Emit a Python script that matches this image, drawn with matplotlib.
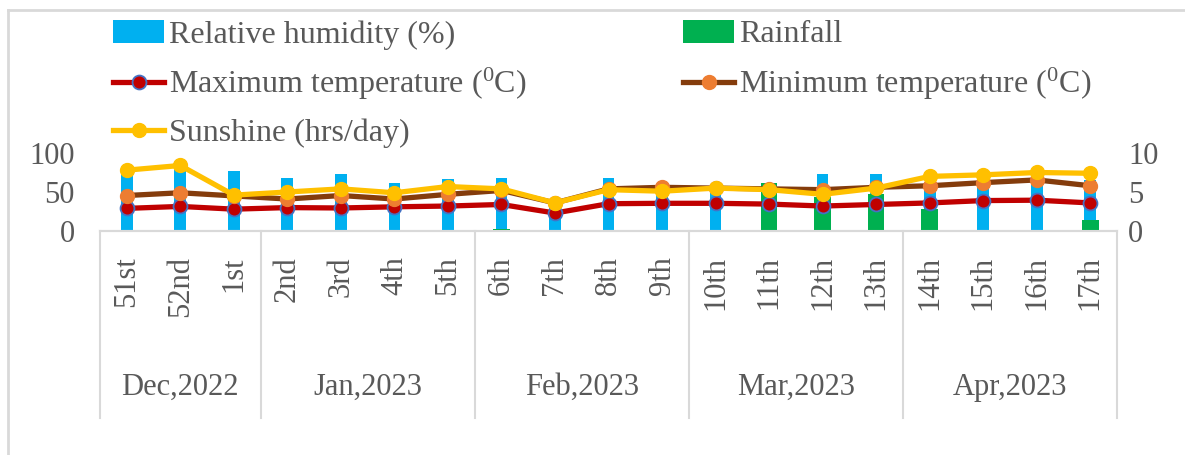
import matplotlib
matplotlib.use("Agg")
import matplotlib.pyplot as plt
from matplotlib.lines import Line2D
import matplotlib.transforms as mtransforms

plt.rcParams["font.family"] = ["Liberation Serif", "DejaVu Serif"]
plt.rcParams["mathtext.fontset"] = "custom"
plt.rcParams["mathtext.rm"] = "Liberation Serif"

# data
weeks = ["51st", "52nd", "1st", "2nd", "3rd", "4th", "5th", "6th", "7th", "8th",
         "9th", "10th", "11th", "12th", "13th", "14th", "15th", "16th", "17th"]
months = ["Dec,2022", "Jan,2023", "Feb,2023", "Mar,2023", "Apr,2023"]
month_sizes = [3, 4, 4, 4, 4]

humidity = [80, 88, 77, 68, 73, 62, 67, 68, 35, 68, 55, 55, 55, 73, 73, 60, 68, 72, 65]
rainfall = [0, 0, 0, 0, 0, 0, 0, 3, 0, 0, 0, 0, 61, 43, 47, 28, 0, 0, 14]
max_temp = [29, 31.5, 28, 30, 29.5, 31, 32, 34, 23, 35, 35.5, 35.5, 34.5, 32, 34, 36, 39, 39.5, 36]
min_temp = [45.5, 49, 45, 41, 45.5, 41, 47, 52, 36, 54, 56, 55, 54, 53, 56, 58, 62, 65.5, 58]
sunshine = [7.8, 8.4, 4.6, 5.0, 5.4, 4.9, 5.7, 5.4, 3.6, 5.3, 5.1, 5.5, 5.3, 4.7, 5.5, 7.0, 7.2, 7.5, 7.4]

txt = "#595959"
grid_c = "#D9D9D9"
W, H = 1185, 455

fig = plt.figure(figsize=(W / 100, H / 100), dpi=100)
ax = fig.add_axes([100 / W, 1 - 231 / H, 1017 / W, 78 / H])
x = list(range(len(weeks)))

ax.bar(x, humidity, width=0.22, color="#00B0F0", zorder=2, label="Relative humidity (%)")
ax.bar(x, rainfall, width=0.31, color="#00B050", zorder=3, label="Rainfall")
ax.plot(x, max_temp, color="#C00000", lw=3.8, marker="o", ms=10,
        markerfacecolor="#C00000", markeredgecolor="#4472C4", markeredgewidth=1.3,
        zorder=4, label=r"Maximum temperature ($\mathrm{^0}$C)")
ax.plot(x, min_temp, color="#843C0C", lw=3.8, marker="o", ms=10,
        markerfacecolor="#ED7D31", markeredgecolor="#ED7D31",
        zorder=5, label=r"Minimum temperature ($\mathrm{^0}$C)")

ax2 = ax.twinx()
ax2.plot(x, sunshine, color="#FFC000", lw=3.8, marker="o", ms=10,
         markerfacecolor="#FFC000", markeredgecolor="#FFC000",
         zorder=6, label="Sunshine (hrs/day)")

ax.set_xlim(-0.5, len(weeks) - 0.5)
ax.set_ylim(0, 100)
ax.set_yticks([0, 50, 100])
ax2.set_ylim(0, 10)
ax2.set_yticks([0, 5, 10])

for a in (ax, ax2):
    for s in ["top", "left", "right"]:
        a.spines[s].set_visible(False)
    a.spines["bottom"].set_color(grid_c)
    a.spines["bottom"].set_linewidth(1.5)
    a.tick_params(length=0, labelsize=22, colors=txt)
ax.tick_params(axis="y", pad=18)
ax2.tick_params(axis="y", pad=8)

ax.set_xticks(x)
ax.set_xticklabels(weeks, rotation=90)
ax.tick_params(axis="x", pad=18)

# multi-level category axis
trans = mtransforms.blended_transform_factory(ax.transData, ax.transAxes)
y_low = -(418 - 231) / 78
edges = [-0.5]
for n in month_sizes:
    edges.append(edges[-1] + n)
for e in edges:
    ax.add_line(Line2D([e, e], [0, y_low], transform=trans, color=grid_c,
                       lw=1.5, clip_on=False))
y_month = -(387 - 231) / 78
for i, m in enumerate(months):
    mid = (edges[i] + edges[i + 1]) / 2
    ax.text(mid, y_month, m, transform=trans, ha="center", va="center",
            fontsize=22, color=txt)

# legend
h1, l1 = ax.get_legend_handles_labels()
h2, l2 = ax2.get_legend_handles_labels()
hd = dict(zip(l1 + l2, h1 + h2))
order = ["Relative humidity (%)", r"Maximum temperature ($\mathrm{^0}$C)", "Sunshine (hrs/day)",
         "Rainfall", r"Minimum temperature ($\mathrm{^0}$C)"]
fig.legend([hd[k] for k in order], order, ncol=2, loc="upper left",
           bbox_to_anchor=(113 / W, 1 - 20 / H), frameon=False, fontsize=23,
           labelcolor=txt, handlelength=1.6, handletextpad=0.15,
           columnspacing=4.9, labelspacing=0.52, borderpad=0, borderaxespad=0)

# outer chart border
fig.add_artist(Line2D([8 / W, 8 / W], [0, 1 - 10 / H], color=grid_c, lw=2))
fig.add_artist(Line2D([8 / W, 1], [1 - 10 / H, 1 - 10 / H], color=grid_c, lw=2))

fig.savefig("out.png", dpi=100)
